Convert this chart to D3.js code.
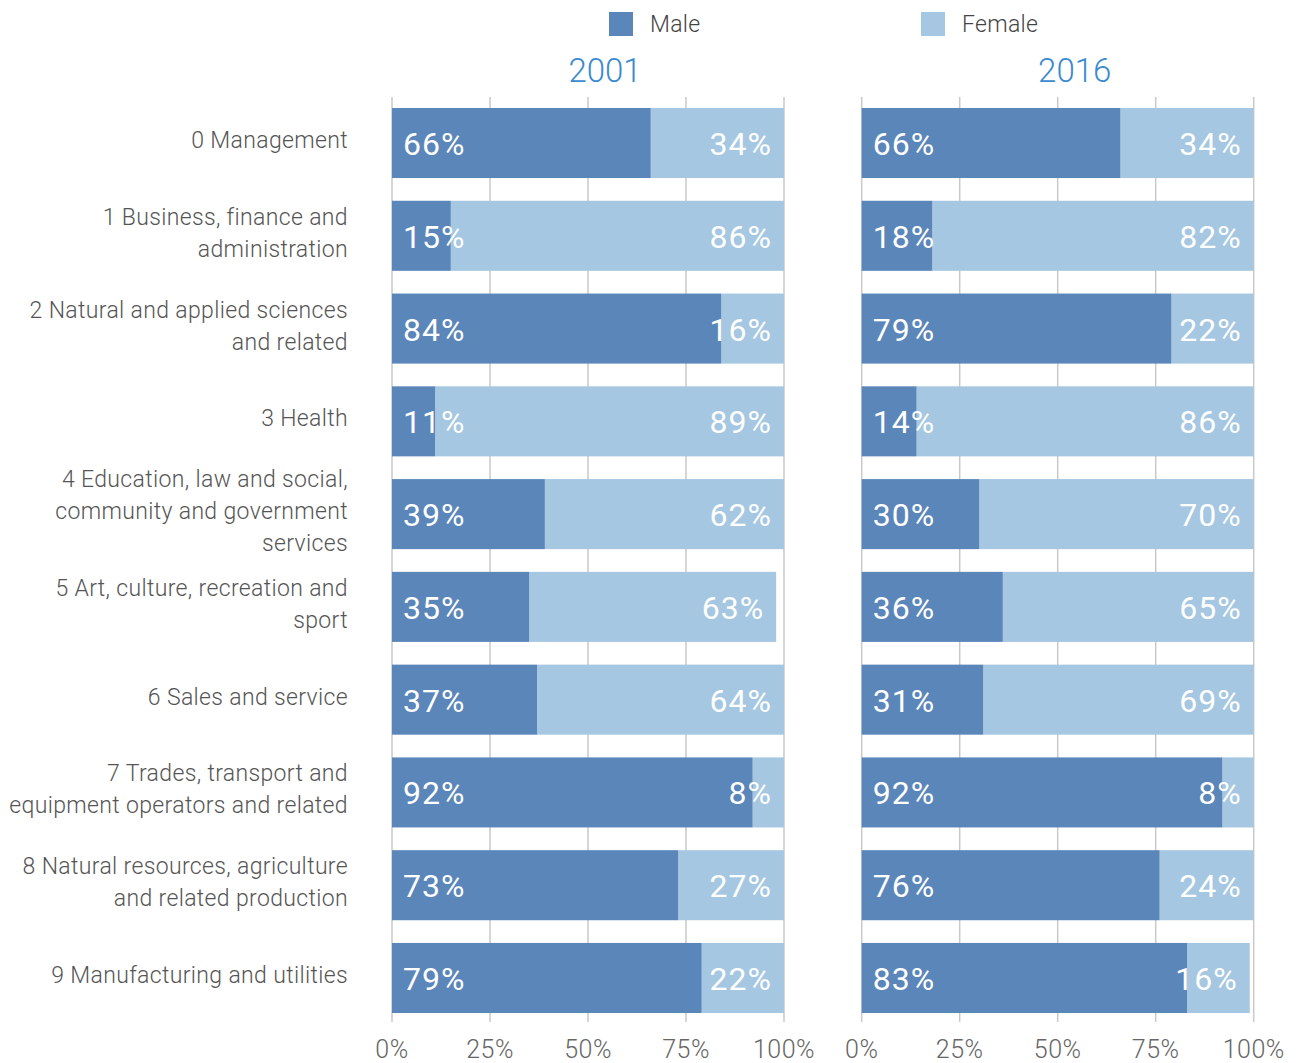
<!DOCTYPE html>
<html>
<head>
<meta charset="utf-8" />
<title>occupations by sex</title>
<style>
html, body {
	margin:0;
	padding:0;
	background:#ffffff;
}
svg {
	font-family: 'Helvetica Neue', Roboto, 'Liberation Sans', sans-serif;
	font-weight:300;
}
</style>
</head>
<body>

<script type="text/javascript" src="https://cdn.jsdelivr.net/npm/d3@7/dist/d3.min.js"></script>

<script>

//=======================================
// data
//=======================================

let categories = [
	['0 Management'],
	['1 Business, finance and', 'administration'],
	['2 Natural and applied sciences', 'and related'],
	['3 Health'],
	['4 Education, law and social,', 'community and government', 'services'],
	['5 Art, culture, recreation and', 'sport'],
	['6 Sales and service'],
	['7 Trades, transport and', 'equipment operators and related'],
	['8 Natural resources, agriculture', 'and related production'],
	['9 Manufacturing and utilities'],
];

let years = ['2001', '2016'];

let male2001   = [66, 15, 84, 11, 39, 35, 37, 92, 73, 79];
let female2001 = [34, 86, 16, 89, 62, 63, 64,  8, 27, 22];

let male2016   = [66, 18, 79, 14, 30, 36, 31, 92, 76, 83];
let female2016 = [34, 82, 22, 86, 70, 65, 69,  8, 24, 16];

let xTicks = [0, 25, 50, 75, 100];

let series = ['Male', 'Female'];


//=======================================
// chart
//=======================================

let width = 1300,
		height = 1063,
		panelX = [392, 861.7],
		panelW = 392,
		colors = { Male:'#5b86ba', Female:'#a5c7e1' },
		titleColor = '#3b8ad0';

let svg = d3.select('body')
	.append('svg')
		.attr('width', width)
		.attr('height', height);

let y = d3.scaleBand()
	.domain(d3.range(categories.length))
	.range([108, 1013])
	.paddingInner(0.245)
	.paddingOuter(0);

let panels = [
	{ year: years[0], male: male2001, female: female2001 },
	{ year: years[1], male: male2016, female: female2016 },
];


//=====================
// legend
//=====================
svg.append('g').attr('class','legend')
	.selectAll('g').data(series)
		.join('g')
			.attr('transform', (d,i)=>'translate('+[609 + i*312, 12]+')')
			.call(sel=>{
				sel.append('rect')
					.attr('width', 24)
					.attr('height', 24)
					.attr('fill', d=>colors[d]);
				sel.append('text')
					.attr('x', 41)
					.attr('y', 20)
					.attr('font-size', 23)
					.attr('letter-spacing', 0.3)
					.attr('fill', '#444')
					.text(d=>d);
			});


//=====================
// category labels
//=====================
svg.append('g').attr('class','categories')
	.selectAll('text').data(categories)
		.join('text')
			.attr('text-anchor', 'end')
			.attr('font-size', 23)
			.attr('letter-spacing', 0.35)
			.attr('fill', '#555')
			.attr('transform', (d,i)=>'translate('+[348, y(i) + y.bandwidth()/2 - 3 - (d.length-1)*16]+')')
			.call(sel=>{
				sel.selectAll('tspan').data(d=>d)
					.join('tspan')
						.attr('x', 0)
						.attr('y', (d,i)=>i*32 + 8)
						.text(d=>d);
			});


//=====================
// panels
//=====================
panels.forEach((p, pi)=>{

	let x = d3.scaleLinear().domain([0,100]).range([panelX[pi], panelX[pi] + panelW]);

	let g = svg.append('g').attr('class','panel-'+p.year);

	// grid
	g.append('g').attr('class','grid')
		.selectAll('line').data(xTicks)
			.join('line')
				.attr('x1', d=>x(d))
				.attr('x2', d=>x(d))
				.attr('y1', 97)
				.attr('y2', 1022)
				.attr('stroke', '#c9c9c9')
				.attr('stroke-width', 1.5);

	// axis labels
	g.append('g').attr('class','x-axis')
		.selectAll('text').data(xTicks)
			.join('text')
				.attr('x', d=>x(d))
				.attr('y', 1058)
				.attr('text-anchor', 'middle')
				.attr('font-size', 25)
				.attr('letter-spacing', 0.5)
				.attr('fill', '#666')
				.text(d=>d+'%');

	// title
	g.append('text')
		.attr('x', x(50) + 17)
		.attr('y', 82)
		.attr('text-anchor', 'middle')
		.attr('font-size', 33)
		.attr('fill', titleColor)
		.text(p.year);

	// bars
	let rows = categories.map((c,i)=>({
		i: i,
		male: p.male[i],
		female: p.female[i],
		end: Math.min(100, p.male[i] + p.female[i]),
	}));

	let bars = g.append('g').attr('class','bars')
		.selectAll('g').data(rows)
			.join('g')
				.attr('transform', d=>'translate('+[0, y(d.i)]+')');

	bars.append('rect')
		.attr('x', d=>x(d.male))
		.attr('width', d=>x(d.end) - x(d.male))
		.attr('height', y.bandwidth())
		.attr('fill', colors.Female);

	bars.append('rect')
		.attr('x', x(0))
		.attr('width', d=>x(d.male) - x(0))
		.attr('height', y.bandwidth())
		.attr('fill', colors.Male);

	bars.append('text')
		.attr('x', x(0) + 11)
		.attr('y', y.bandwidth()/2 + 12)
		.attr('font-size', 32)
		.attr('font-weight', 400)
		.attr('letter-spacing', 1)
		.attr('fill', '#fff')
		.text(d=>d.male+'%');

	bars.append('text')
		.attr('x', d=>x(d.end) - 12)
		.attr('y', y.bandwidth()/2 + 12)
		.attr('text-anchor', 'end')
		.attr('font-size', 32)
		.attr('font-weight', 400)
		.attr('letter-spacing', 1)
		.attr('fill', '#fff')
		.text(d=>d.female+'%');

});

</script>

</body>
</html>
